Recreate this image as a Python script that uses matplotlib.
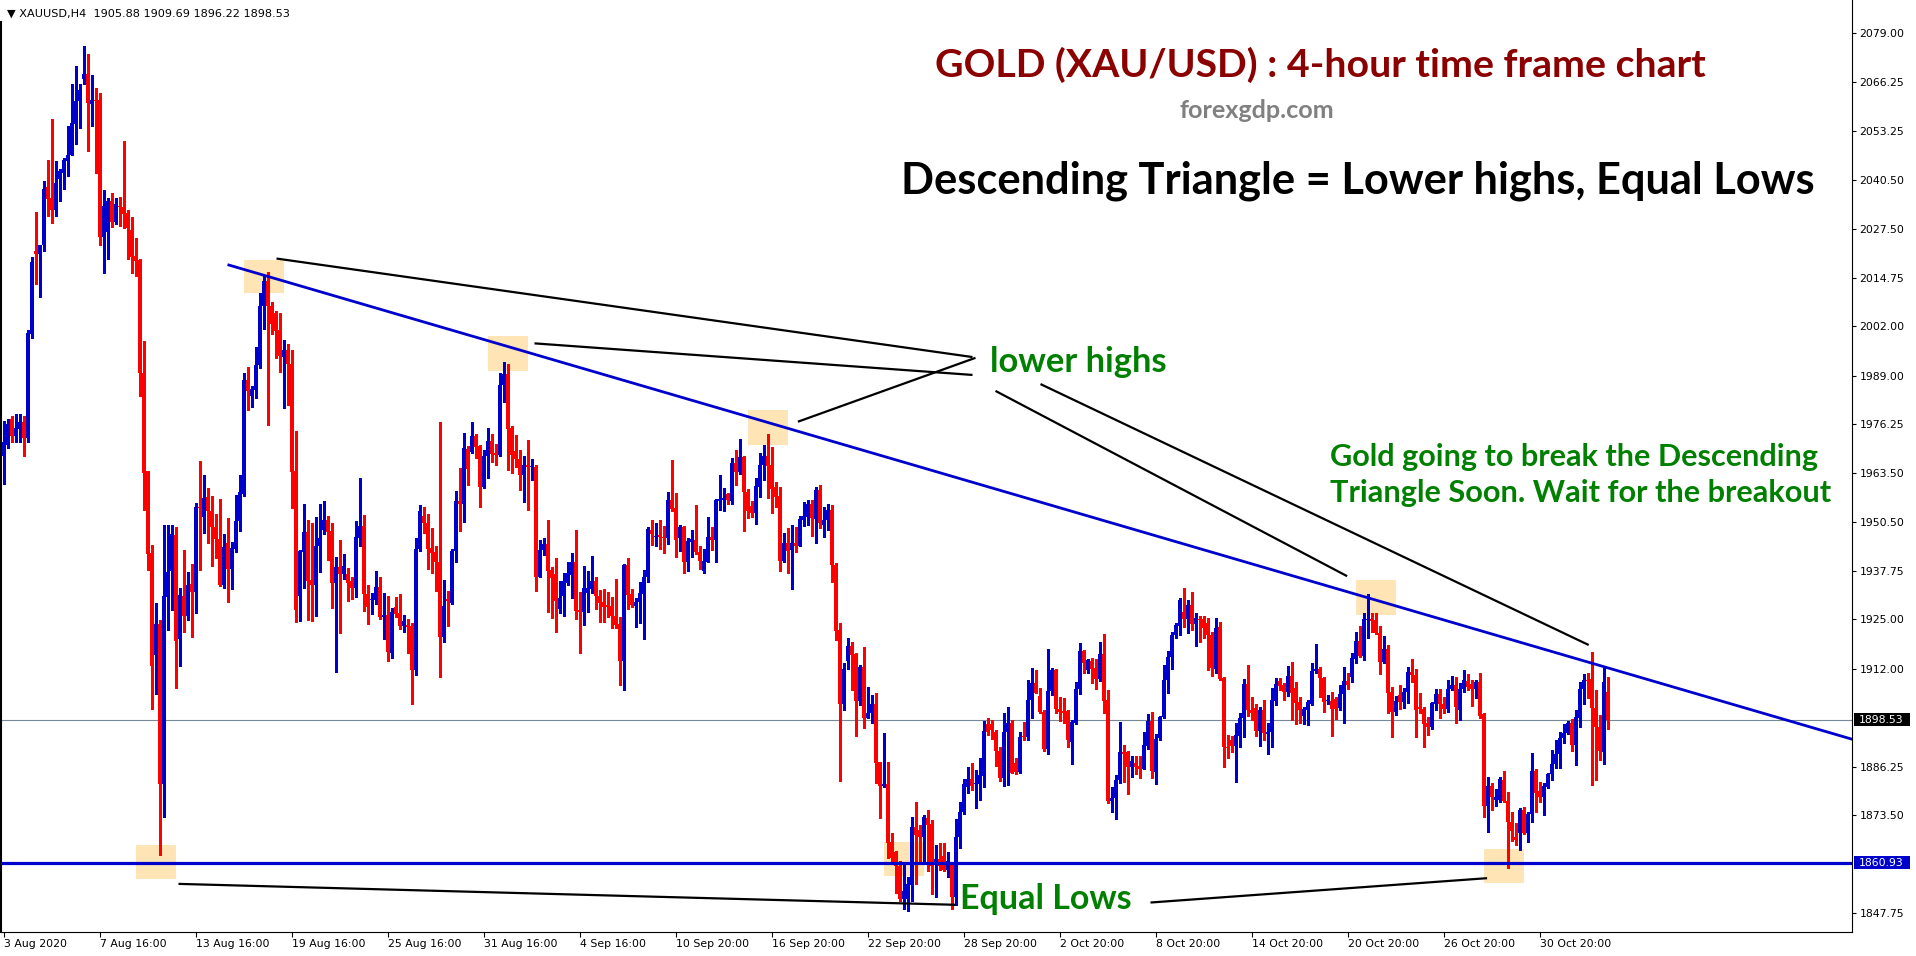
import numpy as np
import matplotlib
matplotlib.use("Agg")
import matplotlib.pyplot as plt
import matplotlib.transforms as mtransforms
from matplotlib.patches import Rectangle

# XAUUSD H4 candles, 3 Aug 2020 .. 3 Nov 2020
opens = [
    1968.0, 1970.8, 1977.6, 1973.1, 1974.9, 1976.9, 1972.6, 1999.9, 2021.7, 2021.0,
    2023.3, 2038.6, 2035.8, 2032.6, 2040.6, 2042.3, 2045.5, 2047.1, 2055.1, 2061.2,
    2067.1, 2068.3, 2060.5, 2061.4, 2061.4, 2025.5, 2026.8, 2034.8, 2029.5, 2033.6,
    2033.4, 2031.7, 2027.3, 2020.4, 2019.3, 1989.8, 1963.9, 1942.3, 1915.7, 1923.8,
    1881.6, 1930.9, 1937.6, 1947.2, 1919.9, 1931.1, 1925.7, 1934.2, 1932.1, 1954.5,
    1951.9, 1957.0, 1953.3, 1949.2, 1946.0, 1934.0, 1945.0, 1938.1, 1943.5, 1950.8,
    1958.0, 1988.0, 1983.6, 1985.2, 1991.8, 2007.2, 2013.8, 2007.2, 2005.6, 2000.9,
    1994.0, 1995.8, 1992.1, 1964.0, 1931.1, 1942.7, 1947.9, 1935.3, 1934.1, 1944.1,
    1948.4, 1951.1, 1948.2, 1934.6, 1938.7, 1936.8, 1936.9, 1935.0, 1933.3, 1946.4,
    1949.5, 1931.6, 1930.1, 1930.1, 1933.4, 1925.6, 1926.0, 1916.0, 1928.1, 1926.5,
    1923.3, 1923.5, 1923.2, 1911.5, 1943.4, 1952.1, 1950.2, 1943.7, 1942.6, 1940.0,
    1920.4, 1930.2, 1929.3, 1942.9, 1956.1, 1955.4, 1969.6, 1968.9, 1973.2, 1970.5,
    1959.8, 1967.9, 1971.9, 1968.6, 1968.1, 1986.5, 1989.4, 1975.3, 1969.3, 1967.1,
    1962.9, 1965.5, 1964.9, 1965.1, 1936.2, 1943.2, 1944.8, 1937.8, 1936.8, 1927.7,
    1931.2, 1934.4, 1936.6, 1939.9, 1927.4, 1927.0, 1932.0, 1932.9, 1935.1, 1931.2,
    1929.4, 1928.8, 1928.4, 1925.9, 1923.6, 1914.1, 1939.2, 1931.6, 1928.5, 1929.4,
    1931.6, 1936.0, 1948.4, 1946.5, 1947.1, 1946.7, 1946.3, 1956.3, 1954.1, 1946.2,
    1949.3, 1940.1, 1945.4, 1945.8, 1942.7, 1937.6, 1940.1, 1946.7, 1945.8, 1956.1,
    1956.3, 1957.9, 1956.1, 1966.0, 1963.8, 1967.5, 1958.3, 1954.7, 1953.0, 1959.8,
    1965.5, 1967.9, 1965.5, 1959.7, 1957.4, 1940.4, 1944.9, 1943.2, 1944.9, 1944.3,
    1951.1, 1951.9, 1955.4, 1951.3, 1958.9, 1949.7, 1951.1, 1953.7, 1939.2, 1922.1,
    1902.6, 1914.1, 1918.0, 1915.8, 1903.6, 1912.5, 1899.1, 1900.2, 1902.7, 1887.4,
    1881.2, 1881.6, 1866.3, 1863.9, 1860.0, 1851.4, 1851.4, 1855.1, 1870.3, 1869.6,
    1867.6, 1872.8, 1871.1, 1861.2, 1861.9, 1862.7, 1859.1, 1860.4, 1852.0, 1867.6,
    1874.2, 1881.0, 1883.1, 1881.6, 1881.7, 1883.8, 1897.4, 1897.4, 1895.2, 1890.3,
    1883.3, 1895.2, 1897.8, 1887.1, 1884.9, 1894.2, 1894.1, 1903.7, 1908.3, 1904.8,
    1900.7, 1890.8, 1906.2, 1911.6, 1901.3, 1900.9, 1900.9, 1892.8, 1897.6, 1906.6,
    1916.5, 1911.6, 1914.1, 1912.1, 1909.2, 1915.8, 1903.8, 1877.3, 1878.1, 1882.7,
    1890.1, 1890.1, 1886.2, 1887.1, 1886.4, 1885.5, 1891.7, 1898.3, 1884.9, 1893.7,
    1899.2, 1909.0, 1915.1, 1920.7, 1923.3, 1926.8, 1925.0, 1928.7, 1923.6, 1925.0,
    1925.0, 1923.9, 1920.7, 1911.9, 1922.9, 1909.5, 1891.5, 1893.2, 1891.7, 1894.4,
    1899.0, 1908.0, 1901.1, 1901.7, 1895.7, 1901.1, 1894.8, 1895.2, 1903.6, 1908.8,
    1907.7, 1905.8, 1910.1, 1906.8, 1903.1, 1899.6, 1901.0, 1902.7, 1911.4, 1911.9,
    1909.6, 1903.6, 1903.5, 1903.9, 1901.6, 1905.2, 1908.7, 1909.9, 1914.5, 1919.3,
    1915.4, 1924.8, 1925.0, 1924.8, 1921.3, 1913.7, 1917.1, 1905.8, 1900.5, 1905.1,
    1903.1, 1905.8, 1911.0, 1910.3, 1901.8, 1901.3, 1897.8, 1896.7, 1902.7, 1905.2,
    1902.6, 1901.4, 1906.6, 1907.7, 1901.0, 1906.6, 1908.8, 1907.9, 1906.6, 1908.4,
    1900.0, 1875.9, 1881.1, 1877.5, 1877.5, 1882.7, 1877.2, 1871.6, 1867.8, 1868.9,
    1874.7, 1868.7, 1873.8, 1885.2, 1879.7, 1878.2, 1881.0, 1884.3, 1886.8, 1889.6,
    1893.7, 1895.0, 1897.8, 1891.9, 1899.1, 1906.6, 1909.0, 1909.2, 1901.6, 1896.6,
    1890.2, 1905.88,
]
highs = [
    1977.0, 1977.6, 1978.3, 1979.0, 1979.0, 1978.3, 2001.0, 2020.3, 2032.0, 2023.3,
    2040.2, 2045.8, 2056.5, 2045.5, 2043.3, 2046.3, 2054.7, 2065.7, 2070.5, 2065.7,
    2075.6, 2073.5, 2068.0, 2064.7, 2063.2, 2037.8, 2035.6, 2037.0, 2035.8, 2036.1,
    2050.8, 2032.6, 2030.6, 2025.1, 2019.6, 1998.0, 1963.9, 1944.6, 1929.3, 1924.9,
    1949.8, 1949.7, 1949.7, 1949.2, 1933.3, 1943.3, 1937.5, 1939.5, 1955.6, 1966.5,
    1962.8, 1959.5, 1957.3, 1952.6, 1956.7, 1947.5, 1951.5, 1945.2, 1957.6, 1962.8,
    1989.8, 1991.3, 1986.4, 1996.5, 2010.7, 2015.5, 2016.3, 2008.5, 2005.9, 2005.4,
    1998.4, 1997.3, 1995.8, 1974.5, 1943.2, 1955.4, 1951.1, 1950.2, 1951.9, 1955.3,
    1956.1, 1952.2, 1950.2, 1941.4, 1945.8, 1942.1, 1938.5, 1936.2, 1950.8, 1962.2,
    1952.4, 1934.0, 1931.9, 1937.7, 1936.0, 1931.8, 1931.1, 1927.8, 1930.7, 1931.6,
    1926.0, 1925.0, 1923.9, 1946.2, 1955.0, 1954.6, 1952.6, 1948.9, 1944.2, 1976.8,
    1935.3, 1932.5, 1943.4, 1958.7, 1964.8, 1974.0, 1970.5, 1976.8, 1973.8, 1970.7,
    1969.5, 1975.2, 1973.7, 1971.0, 1989.6, 1992.5, 1992.1, 1975.8, 1973.4, 1969.5,
    1967.9, 1972.1, 1967.0, 1965.5, 1945.8, 1946.2, 1951.1, 1938.8, 1941.0, 1934.9,
    1937.2, 1939.9, 1942.3, 1948.4, 1932.2, 1939.0, 1937.6, 1941.6, 1936.0, 1932.7,
    1932.9, 1932.1, 1930.9, 1935.6, 1925.5, 1939.5, 1941.0, 1932.9, 1930.5, 1934.7,
    1937.9, 1949.3, 1951.1, 1950.2, 1951.1, 1949.5, 1958.5, 1966.8, 1958.2, 1949.7,
    1949.5, 1946.2, 1948.4, 1955.0, 1944.2, 1943.4, 1951.9, 1949.3, 1956.5, 1962.9,
    1959.6, 1958.1, 1967.3, 1969.5, 1972.3, 1967.9, 1959.2, 1956.1, 1962.0, 1968.6,
    1970.8, 1973.8, 1970.2, 1961.0, 1959.8, 1947.6, 1949.0, 1949.7, 1949.3, 1952.1,
    1955.7, 1956.3, 1956.3, 1959.8, 1960.3, 1954.6, 1955.4, 1955.0, 1939.7, 1923.9,
    1913.4, 1920.0, 1919.1, 1916.2, 1912.9, 1917.8, 1907.2, 1905.1, 1905.5, 1887.5,
    1895.0, 1887.5, 1868.9, 1864.1, 1861.5, 1861.0, 1857.3, 1873.1, 1876.8, 1870.9,
    1873.5, 1874.8, 1872.2, 1865.6, 1866.1, 1866.1, 1863.9, 1861.2, 1872.5, 1877.0,
    1883.0, 1886.2, 1887.1, 1885.3, 1888.4, 1898.2, 1898.9, 1898.5, 1895.9, 1891.5,
    1900.2, 1902.0, 1898.5, 1888.6, 1895.2, 1898.0, 1909.0, 1912.1, 1911.6, 1906.8,
    1901.1, 1917.1, 1912.1, 1911.8, 1904.4, 1904.2, 1901.1, 1898.5, 1908.6, 1918.8,
    1916.9, 1914.4, 1914.7, 1914.5, 1918.9, 1921.1, 1906.4, 1881.0, 1884.1, 1897.9,
    1891.9, 1890.3, 1888.9, 1888.9, 1889.0, 1895.2, 1900.1, 1900.5, 1894.8, 1899.5,
    1913.0, 1916.5, 1921.7, 1923.9, 1930.5, 1933.3, 1930.0, 1932.1, 1926.5, 1925.9,
    1925.7, 1925.4, 1921.7, 1925.2, 1924.2, 1909.7, 1894.5, 1894.4, 1897.6, 1900.3,
    1909.3, 1913.0, 1904.6, 1902.7, 1902.0, 1903.8, 1897.8, 1906.8, 1909.4, 1909.4,
    1908.1, 1912.8, 1913.8, 1908.6, 1904.6, 1902.0, 1903.8, 1913.4, 1918.5, 1912.5,
    1909.9, 1905.1, 1905.9, 1904.6, 1907.7, 1912.5, 1910.9, 1916.0, 1921.6, 1923.1,
    1926.5, 1931.5, 1926.5, 1926.5, 1923.1, 1920.6, 1918.2, 1907.2, 1904.8, 1907.7,
    1906.8, 1912.3, 1914.4, 1911.8, 1905.5, 1902.0, 1899.4, 1903.1, 1906.6, 1906.6,
    1904.4, 1909.0, 1910.1, 1909.9, 1908.1, 1911.5, 1910.5, 1909.0, 1909.0, 1910.9,
    1900.2, 1883.6, 1881.8, 1880.3, 1883.4, 1885.1, 1879.6, 1874.4, 1871.5, 1875.3,
    1875.7, 1874.4, 1889.9, 1885.5, 1882.3, 1881.8, 1884.6, 1890.6, 1893.2, 1895.2,
    1897.4, 1898.3, 1898.7, 1901.1, 1908.4, 1910.6, 1910.8, 1916.3, 1906.4, 1899.8,
    1912.1, 1909.69,
]
lows = [
    1960.5, 1970.1, 1971.5, 1971.5, 1971.5, 1968.0, 1971.5, 1999.0, 2013.0, 2009.7,
    2021.7, 2030.9, 2029.2, 2030.9, 2035.0, 2038.0, 2041.6, 2047.1, 2049.9, 2054.0,
    2065.7, 2048.2, 2054.6, 2042.2, 2023.4, 2016.0, 2019.6, 2028.1, 2029.0, 2028.4,
    2027.9, 2019.6, 2016.0, 2015.1, 1983.6, 1953.6, 1938.0, 1901.3, 1905.4, 1863.0,
    1872.9, 1922.2, 1927.4, 1906.8, 1912.6, 1921.6, 1924.7, 1920.3, 1926.7, 1938.0,
    1947.7, 1945.0, 1939.1, 1941.2, 1933.6, 1933.3, 1929.5, 1932.9, 1942.6, 1948.1,
    1957.3, 1980.0, 1980.8, 1983.2, 1991.1, 2001.4, 1976.0, 1999.9, 1993.7, 1990.0,
    1980.4, 1981.3, 1954.1, 1924.3, 1924.5, 1933.1, 1924.8, 1924.5, 1925.8, 1937.4,
    1947.3, 1940.5, 1928.0, 1911.2, 1921.4, 1935.5, 1929.8, 1930.2, 1930.9, 1944.1,
    1927.2, 1923.7, 1926.4, 1929.1, 1925.0, 1919.9, 1914.1, 1914.9, 1925.6, 1922.4,
    1921.5, 1916.0, 1902.6, 1910.2, 1942.8, 1947.7, 1938.3, 1937.0, 1932.3, 1909.7,
    1919.1, 1923.2, 1928.9, 1940.1, 1948.2, 1950.6, 1960.3, 1968.8, 1967.4, 1954.4,
    1959.4, 1962.0, 1966.4, 1965.5, 1968.0, 1982.2, 1964.2, 1963.5, 1965.1, 1958.9,
    1955.9, 1953.7, 1961.5, 1932.5, 1936.2, 1941.9, 1927.0, 1925.2, 1921.7, 1926.5,
    1925.7, 1934.1, 1930.5, 1925.0, 1916.2, 1923.5, 1927.0, 1931.8, 1927.7, 1924.3,
    1924.3, 1925.5, 1922.8, 1922.8, 1907.7, 1906.5, 1927.7, 1928.1, 1923.0, 1923.9,
    1919.9, 1934.7, 1944.5, 1944.2, 1943.4, 1942.5, 1944.7, 1953.3, 1941.4, 1943.0,
    1937.2, 1937.6, 1941.4, 1942.1, 1938.2, 1937.2, 1940.1, 1943.2, 1939.9, 1953.7,
    1953.3, 1955.3, 1955.4, 1960.3, 1963.2, 1948.2, 1951.5, 1951.8, 1949.9, 1957.2,
    1961.7, 1956.8, 1952.8, 1954.4, 1937.7, 1940.1, 1937.0, 1932.8, 1942.7, 1944.1,
    1949.6, 1949.7, 1946.9, 1945.1, 1948.9, 1946.5, 1948.4, 1934.8, 1919.5, 1882.4,
    1901.1, 1911.9, 1906.4, 1894.4, 1902.4, 1896.5, 1898.9, 1897.6, 1882.0, 1872.8,
    1881.0, 1862.1, 1861.5, 1852.9, 1850.9, 1848.7, 1848.4, 1850.9, 1855.5, 1860.8,
    1861.2, 1858.8, 1852.7, 1852.0, 1859.1, 1858.9, 1857.3, 1848.7, 1849.8, 1864.9,
    1873.9, 1879.2, 1880.1, 1875.3, 1877.5, 1880.8, 1894.5, 1893.5, 1886.5, 1882.4,
    1881.2, 1881.4, 1884.5, 1884.3, 1884.6, 1893.2, 1893.2, 1898.9, 1905.5, 1900.2,
    1890.4, 1889.5, 1905.1, 1900.2, 1898.3, 1897.8, 1891.3, 1886.8, 1897.4, 1905.3,
    1910.8, 1910.9, 1908.1, 1906.6, 1908.8, 1900.4, 1876.6, 1874.4, 1872.5, 1881.8,
    1882.3, 1878.9, 1883.6, 1884.3, 1883.2, 1885.5, 1890.9, 1883.2, 1881.6, 1893.2,
    1899.1, 1905.5, 1911.8, 1920.0, 1920.8, 1922.9, 1921.4, 1922.2, 1918.0, 1918.9,
    1920.0, 1911.6, 1910.1, 1910.9, 1909.0, 1886.2, 1888.4, 1890.2, 1882.3, 1891.5,
    1894.0, 1899.6, 1898.5, 1894.3, 1891.7, 1893.2, 1889.5, 1891.5, 1902.4, 1906.4,
    1903.8, 1904.9, 1898.5, 1897.4, 1897.8, 1897.4, 1897.2, 1902.4, 1910.8, 1904.6,
    1900.5, 1902.7, 1894.4, 1898.7, 1901.1, 1897.6, 1906.6, 1908.6, 1913.6, 1915.1,
    1914.3, 1920.1, 1921.7, 1921.1, 1910.6, 1913.4, 1900.2, 1894.0, 1899.8, 1901.3,
    1901.6, 1902.9, 1908.6, 1894.1, 1900.2, 1891.3, 1894.5, 1896.0, 1901.0, 1899.0,
    1900.2, 1900.7, 1906.4, 1897.8, 1898.5, 1905.9, 1906.4, 1902.2, 1904.2, 1898.9,
    1873.1, 1869.1, 1874.8, 1875.9, 1877.0, 1877.0, 1859.5, 1866.8, 1865.5, 1864.3,
    1868.5, 1866.5, 1871.8, 1874.4, 1877.0, 1873.4, 1880.7, 1882.7, 1885.8, 1885.8,
    1892.4, 1894.8, 1890.4, 1886.7, 1896.7, 1902.6, 1904.2, 1881.4, 1882.7, 1888.0,
    1886.8, 1896.22,
]
closes = [
    1971.5, 1976.3, 1973.1, 1975.3, 1976.9, 1972.6, 2000.3, 2018.9, 2021.0, 2023.3,
    2038.2, 2035.4, 2032.6, 2039.6, 2042.7, 2045.8, 2047.1, 2055.4, 2061.2, 2064.1,
    2068.3, 2060.6, 2061.4, 2061.3, 2025.4, 2033.6, 2035.0, 2029.5, 2034.1, 2033.4,
    2031.6, 2027.9, 2020.3, 2019.2, 1989.8, 1963.5, 1942.1, 1912.7, 1923.8, 1881.6,
    1931.0, 1937.5, 1947.4, 1919.2, 1931.3, 1925.7, 1934.0, 1932.1, 1954.4, 1954.1,
    1956.9, 1953.3, 1949.2, 1946.0, 1934.0, 1943.9, 1938.1, 1943.6, 1950.8, 1958.5,
    1988.0, 1984.9, 1985.5, 1991.8, 2007.2, 2013.8, 2007.2, 2002.7, 2000.8, 1994.2,
    1995.8, 1992.1, 1963.8, 1927.4, 1942.9, 1947.9, 1935.1, 1934.1, 1944.2, 1946.4,
    1951.1, 1948.0, 1934.6, 1938.7, 1936.9, 1939.1, 1934.6, 1933.3, 1946.6, 1949.5,
    1931.5, 1928.3, 1930.4, 1933.4, 1925.5, 1926.0, 1916.3, 1926.8, 1926.4, 1923.3,
    1924.5, 1923.0, 1911.5, 1943.4, 1953.4, 1950.2, 1943.5, 1942.5, 1939.9, 1920.4,
    1928.5, 1929.8, 1942.9, 1956.1, 1955.4, 1969.9, 1964.4, 1973.2, 1970.3, 1959.8,
    1967.9, 1971.9, 1968.3, 1968.2, 1986.6, 1989.4, 1975.1, 1968.2, 1967.1, 1962.9,
    1965.5, 1964.9, 1965.1, 1936.2, 1943.2, 1944.8, 1937.6, 1935.9, 1929.8, 1930.5,
    1935.0, 1937.0, 1939.9, 1927.2, 1927.0, 1933.1, 1933.1, 1935.1, 1931.2, 1929.3,
    1928.3, 1928.3, 1925.9, 1923.5, 1914.1, 1939.2, 1931.3, 1928.7, 1929.4, 1931.8,
    1936.0, 1948.6, 1947.4, 1946.9, 1946.5, 1946.2, 1956.3, 1954.0, 1945.8, 1949.3,
    1940.1, 1945.5, 1946.1, 1942.7, 1940.3, 1940.3, 1946.7, 1945.8, 1956.3, 1956.6,
    1956.9, 1956.3, 1966.0, 1963.8, 1967.5, 1958.3, 1953.3, 1953.0, 1960.0, 1965.5,
    1967.9, 1965.3, 1959.3, 1957.2, 1940.4, 1944.9, 1943.0, 1944.9, 1944.3, 1951.3,
    1952.1, 1955.4, 1951.5, 1958.9, 1950.4, 1951.1, 1953.7, 1939.2, 1921.9, 1902.6,
    1911.9, 1918.0, 1915.6, 1903.6, 1912.5, 1899.1, 1900.2, 1902.7, 1887.3, 1881.2,
    1881.6, 1866.2, 1862.3, 1860.0, 1851.3, 1853.6, 1855.4, 1870.3, 1868.3, 1867.6,
    1873.1, 1870.9, 1860.1, 1861.9, 1860.1, 1859.1, 1861.5, 1852.0, 1867.6, 1874.2,
    1881.6, 1883.1, 1881.2, 1881.8, 1883.9, 1895.6, 1895.4, 1895.8, 1890.4, 1883.3,
    1895.2, 1897.8, 1884.6, 1884.9, 1894.1, 1893.9, 1903.7, 1908.3, 1905.7, 1900.5,
    1890.8, 1906.1, 1911.6, 1901.3, 1900.5, 1900.2, 1893.1, 1897.9, 1906.6, 1916.5,
    1913.4, 1914.3, 1911.9, 1909.2, 1915.8, 1903.6, 1877.3, 1878.1, 1882.7, 1890.1,
    1889.5, 1886.2, 1887.7, 1886.2, 1885.5, 1891.9, 1898.3, 1885.2, 1893.5, 1899.4,
    1909.0, 1915.1, 1920.8, 1923.5, 1930.0, 1925.0, 1928.7, 1923.6, 1925.2, 1924.8,
    1922.6, 1920.7, 1912.1, 1922.8, 1909.3, 1891.3, 1891.0, 1891.7, 1894.5, 1899.1,
    1908.0, 1901.1, 1900.4, 1895.7, 1901.1, 1895.0, 1895.4, 1903.8, 1907.9, 1907.5,
    1905.8, 1910.1, 1905.5, 1902.9, 1901.0, 1901.4, 1903.1, 1911.4, 1911.9, 1909.6,
    1903.3, 1903.8, 1901.3, 1901.3, 1905.2, 1908.7, 1907.7, 1914.7, 1919.3, 1915.4,
    1925.0, 1925.0, 1924.6, 1921.3, 1913.7, 1917.1, 1905.7, 1900.7, 1903.6, 1903.1,
    1905.8, 1911.0, 1910.3, 1901.0, 1901.3, 1897.4, 1896.7, 1902.9, 1905.2, 1902.6,
    1901.4, 1906.6, 1907.7, 1902.0, 1906.6, 1909.0, 1907.1, 1906.6, 1908.4, 1899.6,
    1875.9, 1881.1, 1878.3, 1878.3, 1882.9, 1877.2, 1871.6, 1869.4, 1867.0, 1874.7,
    1868.7, 1873.8, 1885.2, 1879.4, 1878.2, 1881.1, 1884.3, 1886.8, 1889.6, 1893.7,
    1895.0, 1897.8, 1891.9, 1899.4, 1906.6, 1909.0, 1908.8, 1901.6, 1896.6, 1890.3,
    1908.4, 1898.53,
]

date_labels = ["3 Aug 2020", "7 Aug 16:00", "13 Aug 16:00", "19 Aug 16:00", "25 Aug 16:00",
               "31 Aug 16:00", "4 Sep 16:00", "10 Sep 20:00", "16 Sep 20:00", "22 Sep 20:00",
               "28 Sep 20:00", "2 Oct 20:00", "8 Oct 20:00", "14 Oct 20:00", "20 Oct 20:00",
               "26 Oct 20:00", "30 Oct 20:00"]
price_ticks = [2079.00, 2066.25, 2053.25, 2040.50, 2027.50, 2014.75, 2002.00, 1989.00,
               1976.25, 1963.50, 1950.50, 1937.75, 1925.00, 1912.00, 1886.25, 1873.50, 1847.75]
last_price = 1898.53
support = 1860.93

# descending trendline (bar index, price)
trend_x = [56, 462.25]
trend_y = [2018.2, 1893.4]
# highlighted swing points: (bar from, bar to, price low, price high)
boxes = [(60, 70, 2010.7, 2019.4), (121, 131, 1990.3, 1999.4), (186, 196, 1970.8, 1980.0),
         (220, 230, 1857.6, 1866.4), (33, 43, 1856.7, 1865.6), (338, 348, 1926.2, 1935.3),
         (370, 380, 1855.6, 1864.6)]
# pointer lines (bar0, price0, bar1, price1)
pointers = [(68.25, 2019.8, 242.25, 1993.9), (132.75, 1997.5, 242.25, 1989.2),
            (198.6, 1976.9, 243.0, 1993.7), (248.0, 1985.0, 335.9, 1936.3),
            (259.25, 1986.8, 396.3, 1918.2), (43.75, 1855.4, 238.0, 1849.9),
            (286.75, 1850.5, 370.9, 1856.9)]

W, H = 1916, 956
BULL, BEAR, LINE = "#0000CD", "#FF0000", "#0000CD"
TXT_FONT = ["Lato", "DejaVu Sans"]

fig = plt.figure(figsize=(W / 100, H / 100), dpi=100)
ax = fig.add_axes([1 / W, 24 / H, 1851 / W, 932 / H])
# half-bar offset so every candle lands on whole pixels
ax.set_xlim(-0.625, 462.125)
ax.set_ylim(1842.75, 2087.77)

o = np.array(opens); h = np.array(highs); l = np.array(lows); c = np.array(closes)
x = np.arange(len(c))
cols = np.where(c >= o, BULL, BEAR)
ax.vlines(x, l, h, colors=cols, linewidth=0.8, antialiased=False, zorder=3)
body = np.maximum(np.abs(c - o), 0.27)
ax.bar(x, body, bottom=np.minimum(o, c), width=0.75, color=cols, linewidth=0,
       antialiased=False, zorder=3)

for b0, b1, p0, p1 in boxes:
    ax.add_patch(Rectangle((b0, p0), b1 - b0, p1 - p0, facecolor="#FFE4B5", edgecolor="none", zorder=1))

ax.axhline(last_price, color="#778899", linewidth=0.8, zorder=2)
ax.axhline(support, color=LINE, linewidth=2.3, zorder=5)
ax.plot(trend_x, trend_y, color=LINE, linewidth=2.0, zorder=5, solid_capstyle="butt")
for x0, y0, x1, y1 in pointers:
    ax.plot([x0, x1], [y0, y1], color="black", linewidth=1.6, zorder=6, solid_capstyle="butt")

# axes / ticks in the MT4 look
ax.spines["top"].set_visible(False)
ax.spines["left"].set_linewidth(1.5)
ax.spines["left"].set_bounds(1842.75, 2082.0)
ax.spines["right"].set_linewidth(0.8)
ax.spines["bottom"].set_linewidth(0.8)
ax.set_xticks([24 * k for k in range(len(date_labels))])
ax.set_xticklabels(date_labels)
for t in ax.get_xticklabels():
    t.set_ha("left")
ax.tick_params(axis="x", direction="out", length=3.5, width=0.8, pad=1.5, labelsize=7.8)
ax.yaxis.tick_right()
ax.set_yticks(price_ticks)
ax.set_yticklabels([f"{v:.2f}" for v in price_ticks])
ax.tick_params(axis="y", direction="out", length=3, width=0.8, pad=2.5, labelsize=7.8)

ppx = (2087.77 - 1842.75) / 932.0
trans = mtransforms.blended_transform_factory(fig.transFigure, ax.transData)
for val, fc in [(last_price, "black"), (support, LINE)]:
    ax.add_patch(Rectangle((1854 / W, val - 6.5 * ppx), 56 / W, 13 * ppx, transform=trans,
                           facecolor=fc, edgecolor="none", clip_on=False, zorder=7))
    ax.text(1859 / W, val, f"{val:.2f}", transform=trans, color="white", fontsize=7.8,
            va="center", ha="left", clip_on=False, zorder=8)

renderer = fig.canvas.get_renderer()


def fitted(x0, x1, base, s, color, weight="bold", family=TXT_FONT):
    t = fig.text(x0 / W, 1 - base / H, s, fontsize=20, fontweight=weight, family=family,
                 color=color, ha="left", va="baseline")
    w = t.get_window_extent(renderer).width
    t.set_fontsize(20 * (x1 - x0) / w)
    return t


fitted(7, 290, 16.5, "\u25bc XAUUSD,H4  1905.88 1909.69 1896.22 1898.53", "black",
       weight="normal", family=["DejaVu Sans"])
fitted(935, 1705, 77, "GOLD (XAU/USD) : 4-hour time frame chart", "#8B0000")
fitted(1180, 1335, 118, "forexgdp.com", "#808080")
fitted(901, 1815, 193, "Descending Triangle = Lower highs, Equal Lows", "black")
fitted(990, 1167, 372, "lower highs", "#008000")
fitted(1330, 1818, 466, "Gold going to break the Descending", "#008000")
fitted(1330, 1831, 501.7, "Triangle Soon. Wait for the breakout", "#008000")
fitted(960, 1131, 909.3, "Equal Lows", "#008000")

fig.savefig("out.png", dpi=100)
